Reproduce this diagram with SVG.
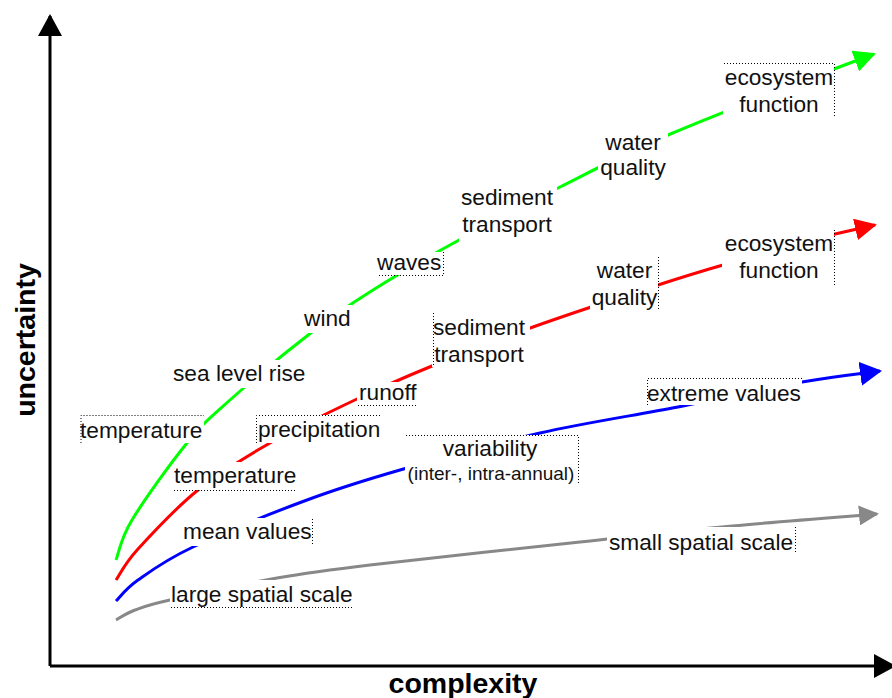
<svg xmlns="http://www.w3.org/2000/svg" width="892" height="698" viewBox="0 0 892 698">
<style>
.c{fill:none;stroke-width:3;stroke-linejoin:round;stroke-linecap:butt}
.t{font-family:"Liberation Sans",Arial,sans-serif;font-size:22.7px;fill:#111}
.s{font-size:19px}
.m{text-anchor:middle}
.bg{fill:#fff}
.d{stroke:#000;stroke-width:1;stroke-dasharray:1,2;fill:none}
.ax{font-family:"Liberation Sans",Arial,sans-serif;font-weight:bold;font-size:28.5px;fill:#000;text-anchor:middle}
</style>
<defs>
<marker id="aK" markerUnits="userSpaceOnUse" viewBox="0 0 22 24" markerWidth="22" markerHeight="24" refX="20" refY="12" orient="auto"><path d="M0,0 L22,12 L0,24 z" fill="#000"/></marker>
<marker id="aG" markerUnits="userSpaceOnUse" viewBox="0 0 22 22" markerWidth="22" markerHeight="22" refX="20" refY="11" orient="auto"><path d="M0,0 L22,11 L0,22 z" fill="#00ff00"/></marker>
<marker id="aR" markerUnits="userSpaceOnUse" viewBox="0 0 22 22" markerWidth="22" markerHeight="22" refX="20" refY="11" orient="auto"><path d="M0,0 L22,11 L0,22 z" fill="#ff0000"/></marker>
<marker id="aB" markerUnits="userSpaceOnUse" viewBox="0 0 22 24" markerWidth="22" markerHeight="24" refX="20" refY="12" orient="auto"><path d="M0,0 L22,12 L0,24 z" fill="#0000ff"/></marker>
<marker id="aY" markerUnits="userSpaceOnUse" viewBox="0 0 20 20" markerWidth="20" markerHeight="20" refX="18" refY="10" orient="auto"><path d="M0,0 L20,10 L0,20 z" fill="#888"/></marker>
</defs>
<rect width="892" height="698" fill="#fff"/>
<g id="axes">
<line x1="50" y1="666" x2="50" y2="16" stroke="#000" stroke-width="3" marker-end="url(#aK)"/>
<line x1="50" y1="666" x2="894" y2="666" stroke="#000" stroke-width="3" marker-end="url(#aK)"/>
<text class="ax" transform="translate(35,340) rotate(-90)">uncertainty</text>
<text class="ax" x="463" y="693">complexity</text>
</g>
<g id="connectors">
<path class="c" stroke="#00ff00" marker-end="url(#aG)" d="M116,560 C118.7,553.3 120.2,539.5 132,520 C143.8,500.5 170.7,463 187,443 C203.3,423 209.2,418.5 230,400 C250.8,381.5 288.2,350.3 312,332 C335.8,313.7 350,304.5 373,290 C396,275.5 418.8,262.2 450,245 C481.2,227.8 523.7,205.3 560,187 C596.3,168.7 622.3,154.7 668,135 C713.7,115.3 799.7,82.5 834,69 L874,54"/>
<path class="c" stroke="#ff0000" marker-end="url(#aR)" d="M116,580 C119.7,574.8 124.3,564 138,549 C151.7,534 176,507.7 198,490 C220,472.3 243.5,458.2 270,443 C296.5,427.8 330,411.8 357,399 C384,386.2 402.7,378 432,366 C461.3,354 495.3,340.5 533,327 C570.7,313.5 626.3,295.3 658,285 C689.7,274.7 693.5,273.5 723,265 C752.5,256.5 809.7,240.7 835,234 L875,225"/>
<path class="c" stroke="#0000ff" marker-end="url(#aB)" d="M116,601 C119.7,597.5 125.2,589 138,580 C150.8,571 164.8,560.3 193,547 C221.2,533.7 272.5,512.8 307,500 C341.5,487.2 361.2,481.2 400,470 C438.8,458.8 493.7,443.5 540,433 C586.3,422.5 634.3,415.5 678,407 C721.7,398.5 768.3,388 802,382 C835.7,376 867,372.8 880,371"/>
<path class="c" stroke="#888" marker-end="url(#aY)" d="M116,620 C119.2,618.3 126,613.3 135,610 C144,606.7 146.3,605.3 170,600 C193.7,594.7 243.7,583.8 277,578 C310.3,572.2 319.5,571 370,565 C420.5,559 519.7,548.5 580,542 C640.3,535.5 682.5,530.7 732,526 C781.5,521.3 852.8,516 877,514"/>
</g>
<g id="g-temperature">
<rect class="bg" x="80" y="415" width="124" height="28"/>
<path class="d" d="M81,443 V415.5 H204"/>
<text class="t" x="80" y="438">temperature</text>
</g>
<g id="g-sea-level-rise">
<rect class="bg" x="172" y="360" width="136" height="28"/>
<text class="t" x="173" y="381">sea level rise</text>
</g>
<g id="g-wind">
<rect class="bg" x="302" y="305" width="50" height="28"/>
<text class="t" x="304" y="326">wind</text>
</g>
<g id="g-waves">
<rect class="bg" x="375" y="252" width="68" height="23"/>
<path class="d" d="M443.5,252 V275.5 H377"/>
<text class="t" x="377" y="270">waves</text>
</g>
<g id="g-sediment">
<rect class="bg" x="459" y="183" width="98" height="65"/>
<text class="t m" x="507" y="205">sediment</text>
<text class="t m" x="507" y="232">transport</text>
</g>
<g id="g-water">
<rect class="bg" x="598" y="128" width="70" height="54"/>
<text class="t m" x="633" y="150">water</text>
<text class="t m" x="633" y="175">quality</text>
</g>
<g id="g-ecosystem">
<rect class="bg" x="723" y="63" width="111" height="54"/>
<path class="d" d="M724,63.5 H834.5 V117"/>
<text class="t m" x="779" y="85">ecosystem</text>
<text class="t m" x="779" y="112">function</text>
</g>
<g id="r-temperature">
<rect class="bg" x="174" y="462" width="123" height="28"/>
<path class="d" d="M174,490.5 H297"/>
<text class="t" x="174" y="483">temperature</text>
</g>
<g id="r-precipitation">
<rect class="bg" x="256" y="415" width="125" height="28"/>
<path class="d" d="M256.5,443 V415.5 H381"/>
<text class="t" x="258" y="437">precipitation</text>
</g>
<g id="r-runoff">
<rect class="bg" x="357" y="382" width="61" height="23"/>
<path class="d" d="M358,405.5 H418"/>
<text class="t" x="359" y="400">runoff</text>
</g>
<g id="r-sediment">
<rect class="bg" x="432" y="313" width="98" height="54"/>
<path class="d" d="M433.5,313 V367"/>
<text class="t m" x="479" y="335">sediment</text>
<text class="t m" x="479" y="362">transport</text>
</g>
<g id="r-water">
<rect class="bg" x="590" y="257" width="68" height="54"/>
<path class="d" d="M658.5,257 V311"/>
<text class="t m" x="624.5" y="278">water</text>
<text class="t m" x="624.5" y="305">quality</text>
</g>
<g id="r-ecosystem">
<rect class="bg" x="722" y="230" width="112" height="55"/>
<path class="d" d="M834.5,230 V285"/>
<text class="t m" x="779" y="251">ecosystem</text>
<text class="t m" x="779" y="278">function</text>
</g>
<g id="b-mean">
<rect class="bg" x="182" y="518" width="130" height="28"/>
<path class="d" d="M312.5,519 V545"/>
<text class="t" x="183" y="539">mean values</text>
</g>
<g id="b-variability">
<rect class="bg" x="405" y="435" width="173" height="50"/>
<path class="d" d="M406,435.5 H578.5 V485"/>
<text class="t m" x="490" y="456">variability</text>
<text class="t s m" x="491" y="480">(inter-, intra-annual)</text>
</g>
<g id="b-extreme">
<rect class="bg" x="646" y="378" width="156" height="27"/>
<path class="d" d="M647.5,405 V378.5 H802"/>
<text class="t" x="647" y="401">extreme values</text>
</g>
<g id="y-large">
<rect class="bg" x="170" y="580" width="184" height="27"/>
<path class="d" d="M171,607.5 H354"/>
<text class="t" x="171" y="602">large spatial scale</text>
</g>
<g id="y-small">
<rect class="bg" x="607" y="527" width="188" height="26"/>
<path class="d" d="M795.5,527 V553"/>
<text class="t" x="609" y="550">small spatial scale</text>
</g>
</svg>
